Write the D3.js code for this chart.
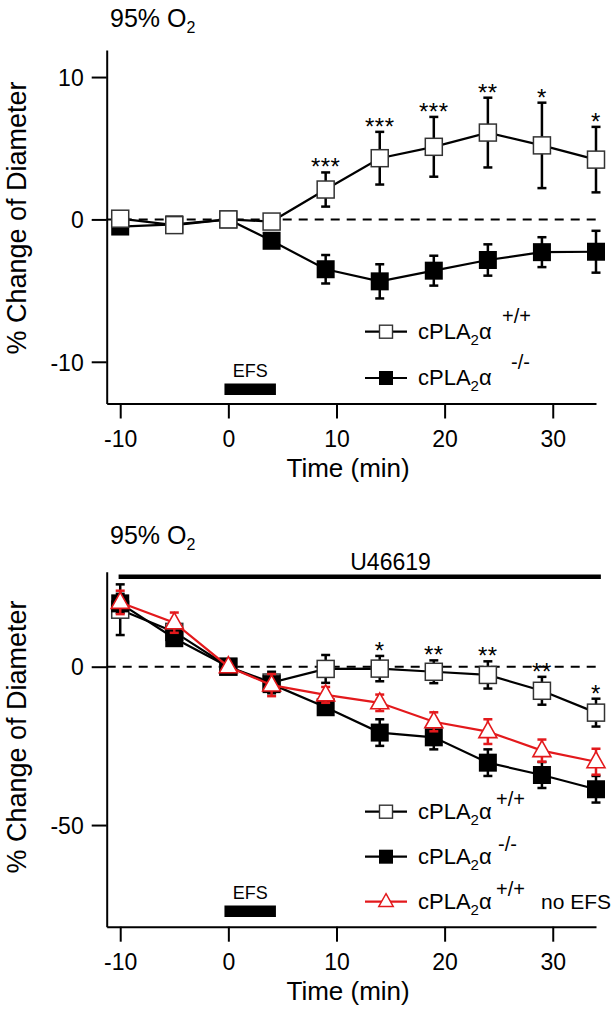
<!DOCTYPE html>
<html><head><meta charset="utf-8">
<script src="https://cdn.jsdelivr.net/npm/d3@7"></script>
<style>
html,body{margin:0;padding:0;background:#fff;}
text{font-family:"Liberation Sans",Arial,Helvetica,sans-serif;fill:#000;}
</style></head>
<body><svg id="c" width="616" height="1012"></svg>
<script>
// ---- data ----
const times = [-10, -5, 0, 4, 9, 14, 19, 24, 29, 34];
const xTicks = [-10, 0, 10, 20, 30];

// Top panel (95% O2)
const topYTicks = [-10, 0, 10];
const topWT = [0.05, -0.4, 0, -0.15, 2.1, 4.3, 5.1, 6.1, 5.2, 4.2];
const topWTErr = [0.3, 0.3, 0, 0.3, 1.2, 1.85, 2.1, 2.45, 3.0, 2.3];
const topKO = [-0.5, -0.35, 0, -1.5, -3.5, -4.35, -3.6, -2.85, -2.3, -2.27];
const topKOErr = [0.3, 0.3, 0, 0.4, 1.0, 1.2, 1.05, 1.1, 1.05, 1.47];
const topStars = ["", "", "", "", "***", "***", "***", "**", "*", "*"];

// Bottom panel (95% O2 + U46619)
const botYTicks = [-50, 0];
const botWT = [18, 11, 0, -5.0, -0.7, -0.6, -1.6, -2.6, -7.6, -14.5];
const botWTErr = [8, 2.5, 0, 3.4, 4.4, 4.0, 3.6, 4.3, 4.4, 4.4];
const botKO = [20, 9, 0, -5.5, -12.8, -20.8, -22.3, -30.3, -34.2, -38.7];
const botKOErr = [3, 2, 0, 2, 2, 4.2, 3.8, 4.2, 4.1, 4.2];
const botNoEFS = [20.3, 13.9, 0, -5.8, -8.9, -11.4, -17.4, -20.5, -26.5, -30.0];
const botNoEFSErr = [3.7, 3.2, 0, 3.5, 2.5, 2.6, 3.0, 3.9, 3.5, 4.1];
const botStars = ["", "", "", "", "", "*", "**", "**", "**", "*"];

const efsSpan = [-0.36, 4.4];
const u46619Span = [-10.15, 34.45];

// ---- drawing ----
const RED = "#e3191c";
const FONT = '"Liberation Sans",Arial,Helvetica,sans-serif';
const svg = d3.select("#c");
const x = d3.scaleLinear().domain([-11.25, 34]).range([106.7, 596]);

function trianglePath(s) {
  return `M0,${-10*s}L${9*s},${6*s}L${-9*s},${6*s}Z`;
}

function drawSeries(g, y, vals, errs, kind) {
  const col = kind === "tri" ? RED : "#000";
  const pts = times.map((t, i) => ({t, v: vals[i], e: errs[i]}));
  g.append("path").datum(pts)
    .attr("d", d3.line().x(d => x(d.t)).y(d => y(d.v)))
    .attr("fill", "none").attr("stroke", col).attr("stroke-width", 2.2);
  const eg = g.append("g").attr("stroke", col).attr("stroke-width", 2.5);
  pts.filter(d => d.e > 0).forEach(d => {
    eg.append("line").attr("x1", x(d.t)).attr("x2", x(d.t)).attr("y1", y(d.v - d.e)).attr("y2", y(d.v + d.e));
    [d.v - d.e, d.v + d.e].forEach(v => {
      eg.append("line").attr("x1", x(d.t) - 4.5).attr("x2", x(d.t) + 4.5).attr("y1", y(v)).attr("y2", y(v));
    });
  });
  pts.forEach(d => {
    if (kind === "open") {
      g.append("rect").attr("x", x(d.t) - 8.5).attr("y", y(d.v) - 8.5).attr("width", 17).attr("height", 17)
        .attr("fill", "#fff").attr("stroke", "#333").attr("stroke-width", 1.5);
    } else if (kind === "filled") {
      g.append("rect").attr("x", x(d.t) - 9).attr("y", y(d.v) - 9).attr("width", 18).attr("height", 18)
        .attr("fill", "#000");
    } else {
      g.append("path").attr("d", trianglePath(1)).attr("transform", `translate(${x(d.t)},${y(d.v)})`)
        .attr("fill", "#fff").attr("stroke", RED).attr("stroke-width", 1.6);
    }
  });
}

function drawStars(g, y, vals, errs, stars) {
  times.forEach((t, i) => {
    if (!stars[i]) return;
    g.append("text").attr("x", x(t)).attr("y", y(vals[i] + errs[i]) + 3)
      .attr("text-anchor", "middle").attr("font-size", 24).attr("letter-spacing", 0.5).text(stars[i]);
  });
}

function legendRow(g, cx, cy, kind, sup, supDx, supDy, extra) {
  const col = kind === "tri" ? RED : "#000";
  g.append("line").attr("x1", cx - 21).attr("x2", cx + 21).attr("y1", cy).attr("y2", cy)
    .attr("stroke", col).attr("stroke-width", 2.2);
  if (kind === "open") {
    g.append("rect").attr("x", cx - 6.5).attr("y", cy - 6.5).attr("width", 13).attr("height", 13)
      .attr("fill", "#fff").attr("stroke", "#333").attr("stroke-width", 1.4);
  } else if (kind === "filled") {
    g.append("rect").attr("x", cx - 7).attr("y", cy - 7).attr("width", 14).attr("height", 14).attr("fill", "#000");
  } else {
    g.append("path").attr("d", trianglePath(0.8)).attr("transform", `translate(${cx},${cy})`)
      .attr("fill", "#fff").attr("stroke", RED).attr("stroke-width", 1.5);
  }
  const t = g.append("text").attr("x", cx + 32).attr("y", cy + 7).attr("font-size", 22);
  t.append("tspan").text("cPLA");
  t.append("tspan").attr("font-size", 15).attr("dy", 6).text("2");
  t.append("tspan").attr("dy", -6).text("α");
  g.append("text").attr("x", cx + 32 + supDx).attr("y", cy + supDy).attr("font-size", 20).text(sup);
  if (extra) {
    g.append("text").attr("x", cx + 155).attr("y", cy + 7).attr("font-size", 21).text(extra);
  }
}

function drawPanel(cfg) {
  const g = svg.append("g");
  const y = d3.scaleLinear().domain(cfg.yDomain).range([cfg.xAxisY, cfg.yTop]);
  // title
  const tt = g.append("text").attr("x", 110).attr("y", cfg.titleY).attr("font-size", 25);
  tt.append("tspan").text("95% O");
  tt.append("tspan").attr("font-size", 16).attr("dy", 6).text("2");
  // zero dashed line
  g.append("line").attr("x1", x.range()[0]).attr("x2", x(34)).attr("y1", y(0)).attr("y2", y(0))
    .attr("stroke", "#000").attr("stroke-width", 2).attr("stroke-dasharray", "9,7");
  // series
  cfg.series.forEach(s => drawSeries(g, y, s.vals, s.errs, s.kind));
  drawStars(g, y, cfg.starVals, cfg.starErrs, cfg.stars);
  // EFS bar
  g.append("rect").attr("x", x(efsSpan[0])).attr("y", cfg.efsY).attr("width", x(efsSpan[1]) - x(efsSpan[0]))
    .attr("height", 11.5).attr("fill", "#000");
  g.append("text").attr("x", (x(efsSpan[0]) + x(efsSpan[1])) / 2).attr("y", cfg.efsY - 7)
    .attr("text-anchor", "middle").attr("font-size", 18).text("EFS");
  // legend
  cfg.legend.forEach(r => legendRow(g, 386, r.cy, r.kind, r.sup, r.supDx, r.supDy, r.extra));
  // axes
  const ya = g.append("g").attr("transform", `translate(${x.range()[0]},0)`)
    .call(d3.axisLeft(y).tickValues(cfg.yTicks).tickSize(15).tickSizeOuter(0).tickPadding(8).tickFormat(d => String(d)));
  const xa = g.append("g").attr("transform", `translate(0,${cfg.xAxisY})`)
    .call(d3.axisBottom(x).tickValues(xTicks).tickSize(15).tickSizeOuter(0).tickPadding(12).tickFormat(d => String(d)));
  [ya, xa].forEach(a => {
    a.selectAll("path,line").attr("stroke", "#000").attr("stroke-width", 2);
    a.selectAll("text").attr("font-size", 23).attr("font-family", FONT).attr("fill", "#000");
  });
  ya.selectAll("text").attr("dy", "0.36em");
  // axis titles
  g.append("text").attr("x", (x(-10) + x(34)) / 2 - 10).attr("y", cfg.xAxisY + 73)
    .attr("text-anchor", "middle").attr("font-size", 26).text("Time (min)");
  g.append("text").attr("transform", `translate(26,${cfg.yTitleY}) rotate(-90)`)
    .attr("text-anchor", "middle").attr("font-size", 27).text("% Change of Diameter");
  return {g, y};
}

// Top panel
drawPanel({
  yDomain: [-12.93, 11.9], xAxisY: 403.5, yTop: 50, titleY: 27, yTicks: topYTicks,
  series: [
    {vals: topKO, errs: topKOErr, kind: "filled"},
    {vals: topWT, errs: topWTErr, kind: "open"}
  ],
  starVals: topWT, starErrs: topWTErr, stars: topStars,
  efsY: 383.5, yTitleY: 218,
  legend: [
    {cy: 331.7, kind: "open", sup: "+/+", supDx: 84, supDy: -9},
    {cy: 378, kind: "filled", sup: "-/-", supDx: 93, supDy: -9}
  ]
});

// Bottom panel
const bot = drawPanel({
  yDomain: [-82.1, 30], xAxisY: 926.7, yTop: 571.7, titleY: 543.5, yTicks: botYTicks,
  series: [
    {vals: botWT, errs: botWTErr, kind: "open"},
    {vals: botKO, errs: botKOErr, kind: "filled"},
    {vals: botNoEFS, errs: botNoEFSErr, kind: "tri"}
  ],
  starVals: botWT, starErrs: botWTErr, stars: botStars,
  efsY: 905.5, yTitleY: 737,
  legend: [
    {cy: 811.7, kind: "open", sup: "+/+", supDx: 78, supDy: -6},
    {cy: 856.7, kind: "filled", sup: "-/-", supDx: 80, supDy: -6},
    {cy: 901.7, kind: "tri", sup: "+/+", supDx: 78, supDy: -6, extra: "no EFS"}
  ]
});
// U46619 bar
bot.g.append("rect").attr("x", x(u46619Span[0])).attr("y", 574.5)
  .attr("width", x(u46619Span[1]) - x(u46619Span[0])).attr("height", 4.5).attr("fill", "#000");
bot.g.append("text").attr("x", x(15)).attr("y", 570).attr("text-anchor", "middle").attr("font-size", 23).text("U46619");
</script></body></html>
